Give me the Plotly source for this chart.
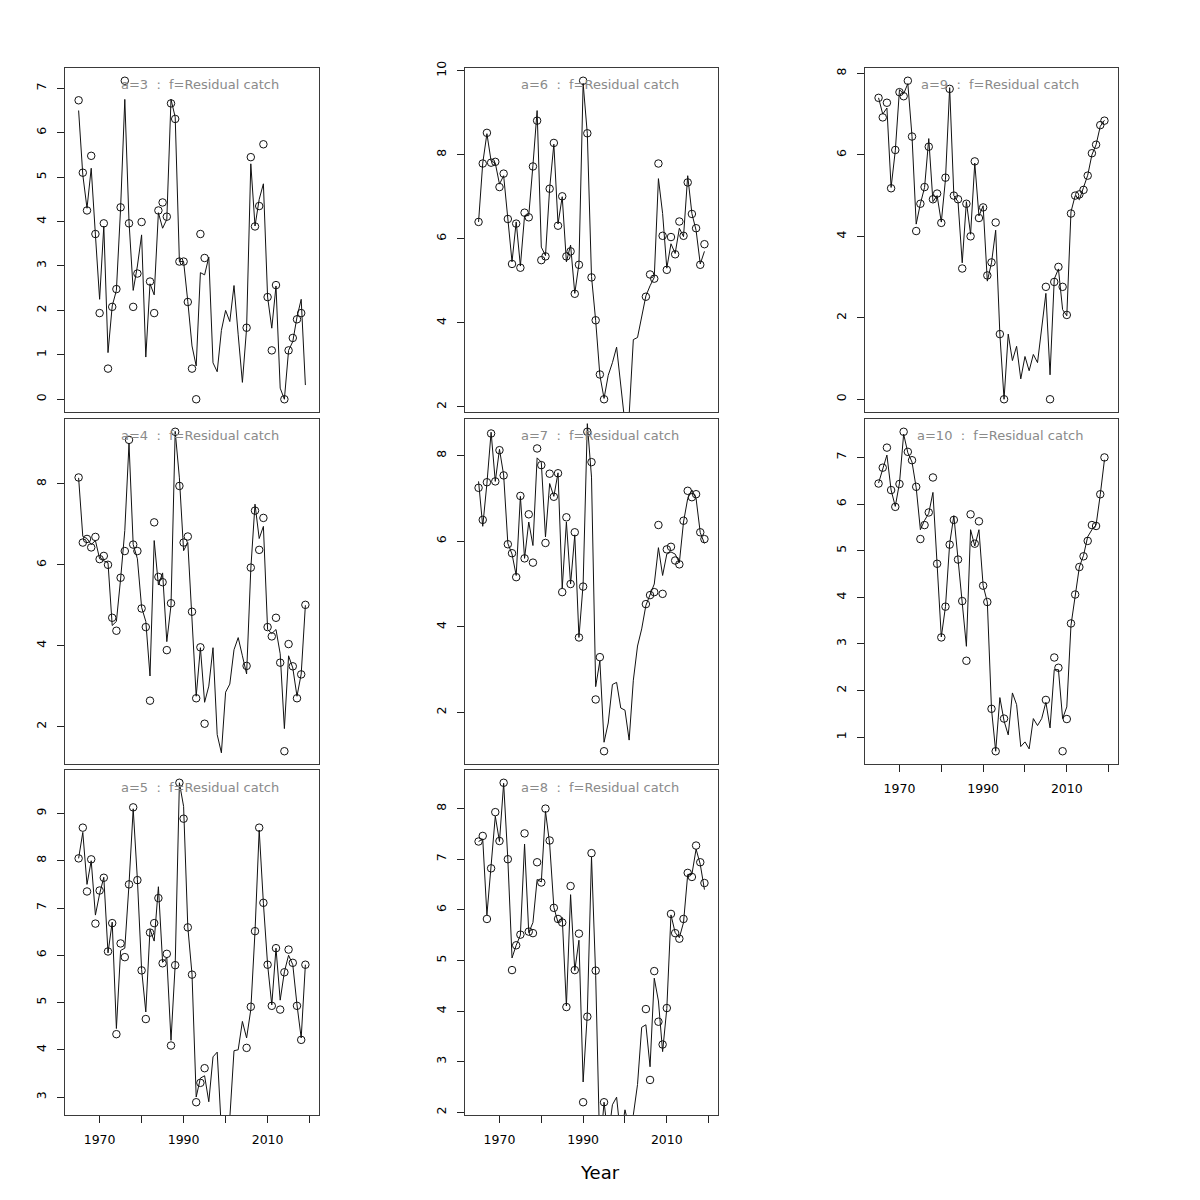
import plotly.graph_objects as go

years = list(range(1965, 2020))
N = None

# ---- a=3 ----
obs_a3 = [6.73, 5.10, 4.25, 5.48, 3.72, 1.94, 3.96, 0.69, 2.08, 2.48,
          4.32, 7.17, 3.96, 2.08, 2.83, 3.99, N, 2.65, 1.94, 4.25,
          4.43, 4.11, 6.66, 6.31, 3.10, 3.10, 2.19, 0.69, 0.00, 3.72,
          3.18, N, N, N, N, N, N, N, N, N,
          1.61, 5.45, 3.89, 4.35, 5.74, 2.30, 1.10, 2.57, N, 0.00,
          1.10, 1.38, 1.80, 1.94, N]
fit_a3 = [6.5, 5.05, 4.3, 5.2, 3.7, 2.25, 3.9, 1.05, 2.1, 2.45,
          4.3, 6.75, 4.0, 2.45, 3.0, 3.7, 0.95, 2.6, 2.35, 4.2,
          3.85, 4.05, 6.75, 6.35, 3.1, 3.1, 2.2, 1.2, 0.75, 2.85,
          2.8, 3.2, 0.82, 0.62, 1.55, 2.0, 1.75, 2.56, 1.45, 0.38,
          1.6, 5.3, 3.9, 4.5, 4.85, 2.3, 1.6, 2.55, 0.25, 0.0,
          1.1, 1.3, 1.85, 2.25, 0.32]

# ---- a=4 ----
obs_a4 = [8.16, 6.55, 6.64, 6.43, 6.69, 6.14, 6.22, 6.00, 4.69, 4.37,
          5.68, 6.34, 9.09, 6.50, 6.34, 4.92, 4.46, 2.64, 7.05, 5.70,
          5.57, 3.89, 5.05, 9.29, 7.95, 6.55, 6.70, 4.84, 2.70, 3.96,
          2.07, N, N, N, N, N, N, N, N, N,
          3.50, 5.93, 7.34, 6.37, 7.16, 4.46, 4.23, 4.69, 3.58, 1.39,
          4.04, 3.49, 2.70, 3.29, 5.01]
fit_a4 = [8.15, 6.7, 6.65, 6.5, 6.6, 6.15, 6.1, 6.05, 4.5, 4.6,
          5.65, 6.85, 9.0, 6.5, 6.15, 4.95, 4.6, 3.25, 6.6, 5.5,
          5.8, 4.1, 5.0, 9.3, 8.15, 6.35, 6.55, 4.8, 2.75, 3.95,
          2.6, 3.0, 3.95, 1.8, 1.35, 2.85, 3.05, 3.9, 4.2, 3.75,
          3.3, 5.9, 7.5, 6.65, 6.95, 4.4, 4.3, 4.4, 3.8, 1.95,
          3.75, 3.45, 2.75, 3.3, 5.0]

# ---- a=5 ----
obs_a5 = [8.05, 8.70, 7.35, 8.03, 6.67, 7.37, 7.64, 6.08, 6.68, 4.33,
          6.25, 5.96, 7.50, 9.13, 7.59, 5.68, 4.65, 6.48, 6.68, 7.21,
          5.83, 6.03, 4.09, 5.79, 9.65, 8.89, 6.59, 5.59, 2.89, 3.30,
          3.61, N, N, N, N, N, N, N, N, N,
          4.04, 4.91, 6.51, 8.70, 7.11, 5.80, 4.93, 6.15, 4.85, 5.64,
          6.12, 5.84, 4.93, 4.21, 5.80]
fit_a5 = [8.05, 8.6, 7.5, 8.0, 6.85, 7.3, 7.65, 6.05, 6.7, 4.45,
          6.1, 6.15, 7.5, 9.1, 7.6, 5.7, 4.8, 6.55, 6.3, 7.45,
          5.85, 5.95, 4.2, 5.8, 9.65, 9.15, 6.6, 5.6, 3.0, 3.4,
          3.45, 2.9, 3.85, 3.95, 2.3, 2.2, 2.55, 3.98, 4.0, 4.6,
          4.25, 4.85, 6.5, 8.65, 7.1, 5.8, 4.95, 6.15, 5.05, 5.65,
          6.0, 5.8, 4.95, 4.25, 5.8]

# ---- a=6 ----
obs_a6 = [6.40, 7.79, 8.52, 7.81, 7.83, 7.23, 7.55, 6.47, 5.40, 6.36,
          5.31, 6.62, 6.51, 7.72, 8.81, 5.49, 5.58, 7.19, 8.28, 6.31,
          7.01, 5.58, 5.70, 4.69, 5.38, 9.76, 8.51, 5.08, 4.06, 2.77,
          2.18, N, N, N, N, N, N, N, N, N,
          4.62, 5.15, 5.05, 7.79, 6.07, 5.26, 6.04, 5.63, 6.41, 6.07,
          7.34, 6.59, 6.25, 5.38, 5.87]
fit_a6 = [6.4, 7.8, 8.5, 7.85, 7.8, 7.3, 7.5, 6.5, 5.45, 6.4,
          5.35, 6.55, 6.55, 7.75, 9.05, 5.8, 5.6, 7.2, 8.25, 6.35,
          7.0, 5.45, 5.85, 4.7, 5.4, 9.7, 8.5, 5.1, 4.05, 2.75,
          2.2, 2.75, 3.05, 3.42, 2.6, 1.6, 1.8, 3.6, 3.65, 4.13,
          4.64, 4.88, 5.08, 7.43, 6.6, 5.3, 5.88, 5.65, 6.25, 6.05,
          7.5, 6.6, 6.2, 5.4, 5.7]

# ---- a=7 ----
obs_a7 = [7.25, 6.50, 7.38, 8.52, 7.40, 8.13, 7.54, 5.93, 5.72, 5.16,
          7.06, 5.60, 6.63, 5.50, 8.17, 7.78, 5.96, 7.58, 7.04, 7.59,
          4.81, 6.56, 5.00, 6.21, 3.75, 4.94, 8.56, 7.85, 2.30, 3.29,
          1.09, N, N, N, N, N, N, N, N, N,
          4.53, 4.74, 4.81, 6.38, 4.77, 5.81, 5.87, 5.55, 5.46, 6.48,
          7.18, 7.03, 7.10, 6.21, 6.05]
fit_a7 = [7.4, 6.35, 7.35, 8.55, 7.4, 8.15, 7.55, 5.95, 5.7, 5.2,
          7.05, 5.6, 6.45, 5.9, 7.95, 7.85, 6.1, 7.35, 7.05, 7.6,
          4.9, 6.45, 5.0, 6.15, 3.75, 5.0, 8.75, 7.5, 2.6, 3.2,
          1.3, 1.75, 2.65, 2.7, 2.1, 2.05, 1.35, 2.75, 3.55, 3.95,
          4.5, 4.75, 5.0, 5.85, 5.2, 5.7, 5.75, 5.7, 5.5, 6.45,
          7.0, 7.2, 7.0, 6.2, 5.95]

# ---- a=8 ----
obs_a8 = [7.35, 7.46, 5.82, 6.82, 7.93, 7.36, 8.51, 7.00, 4.81, 5.30,
          5.51, 7.51, 5.57, 5.54, 6.94, 6.54, 8.00, 7.37, 6.04, 5.82,
          5.75, 4.08, 6.47, 4.81, 5.53, 2.20, 3.89, 7.12, 4.80, N,
          2.20, N, N, N, N, N, N, N, N, N,
          4.04, 2.64, 4.79, 3.79, 3.34, 4.06, 5.92, 5.54, 5.43, 5.82,
          6.73, 6.65, 7.27, 6.94, 6.53]
fit_a8 = [7.35, 7.4, 5.9, 6.8, 7.85, 7.35, 8.5, 7.0, 5.05, 5.3,
          5.5, 7.3, 5.55, 5.75, 6.6, 6.55, 7.95, 7.3, 6.05, 5.75,
          5.85, 4.1, 6.3, 4.8, 5.4, 2.6, 3.95, 7.05, 4.7, 1.2,
          2.2, 1.5, 2.15, 2.3, 1.5, 2.05, 1.7, 1.95, 2.55, 3.68,
          3.73, 2.9, 4.65, 4.2, 3.2, 4.05, 5.9, 5.55, 5.45, 5.75,
          6.7, 6.7, 7.2, 6.9, 6.4]

# ---- a=9 ----
obs_a9 = [7.40, 6.92, 7.28, 5.18, 6.12, 7.54, 7.44, 7.82, 6.45, 4.13,
          4.80, 5.21, 6.20, 4.91, 5.05, 4.33, 5.44, 7.62, 5.00, 4.91,
          3.21, 4.80, 4.00, 5.84, 4.45, 4.71, 3.04, 3.36, 4.34, 1.60,
          0.00, N, N, N, N, N, N, N, N, N,
          2.76, 0.00, 2.88, 3.25, 2.76, 2.07, 4.56, 5.00, 5.03, 5.14,
          5.49, 6.04, 6.25, 6.73, 6.84]
fit_a9 = [7.4, 7.0, 7.15, 5.2, 6.1, 7.6, 7.5, 7.75, 6.45, 4.3,
          4.8, 5.2, 6.4, 4.85, 5.0, 4.35, 5.4, 7.65, 5.0, 4.85,
          3.35, 4.85, 4.05, 5.8, 4.5, 4.75, 2.9, 3.35, 4.15, 1.6,
          0.0, 1.6, 0.95, 1.3, 0.5, 1.05, 0.7, 1.1, 0.9, 1.7,
          2.6, 0.6, 2.95, 3.2, 2.2, 2.05, 4.6, 5.0, 4.9, 5.2,
          5.5, 6.0, 6.25, 6.7, 6.85]

# ---- a=10 ----
obs_a10 = [6.44, 6.78, 7.21, 6.30, 5.94, 6.43, 7.55, 7.12, 6.94, 6.37,
           5.25, 5.55, 5.82, 6.57, 4.72, 3.14, 3.80, 5.13, 5.66, 4.81,
           3.92, 2.64, 5.78, 5.15, 5.63, 4.25, 3.90, 1.61, 0.70, N,
           1.40, N, N, N, N, N, N, N, N, N,
           1.80, N, 2.71, 2.49, 0.70, 1.39, 3.44, 4.06, 4.65, 4.88,
           5.21, 5.55, 5.53, 6.21, 7.00]
fit_a10 = [6.45, 6.75, 7.05, 6.3, 5.95, 6.45, 7.5, 7.1, 6.9, 6.35,
           5.45, 5.65, 5.8, 6.25, 4.7, 3.15, 3.8, 5.15, 5.75, 4.8,
           3.95, 2.95, 5.45, 5.1, 5.45, 4.25, 3.9, 1.6, 0.7, 1.85,
           1.35, 1.05, 1.95, 1.7, 0.8, 0.9, 0.75, 1.4, 1.25, 1.4,
           1.75, 1.2, 2.45, 2.45, 1.4, 1.65, 3.4, 4.05, 4.65, 4.9,
           5.3, 5.45, 5.55, 6.2, 6.95]

# tick labels
yticks_a3 = [0, 1, 2, 3, 4, 5, 6, 7]
yticks_a4 = [2, 4, 6, 8]
yticks_a5 = [3, 4, 5, 6, 7, 8, 9]
yticks_a6 = [2, 4, 6, 8, 10]
yticks_a7 = [2, 4, 6, 8]
yticks_a8 = [2, 3, 4, 5, 6, 7, 8]
yticks_a9 = [0, 2, 4, 6, 8]
yticks_a10 = [1, 2, 3, 4, 5, 6, 7]
xtick_vals = [1970, 1980, 1990, 2000, 2010, 2020]
xtick_text = ["1970", "", "1990", "", "2010", ""]

panel_titles = ["a=3", "a=4", "a=5", "a=6", "a=7", "a=8", "a=9", "a=10"]
fleet = "f=Residual catch"

panels = [
    (panel_titles[0], obs_a3, fit_a3, yticks_a3, 0, 0, False),
    (panel_titles[1], obs_a4, fit_a4, yticks_a4, 0, 1, False),
    (panel_titles[2], obs_a5, fit_a5, yticks_a5, 0, 2, True),
    (panel_titles[3], obs_a6, fit_a6, yticks_a6, 1, 0, False),
    (panel_titles[4], obs_a7, fit_a7, yticks_a7, 1, 1, False),
    (panel_titles[5], obs_a8, fit_a8, yticks_a8, 1, 2, True),
    (panel_titles[6], obs_a9, fit_a9, yticks_a9, 2, 0, False),
    (panel_titles[7], obs_a10, fit_a10, yticks_a10, 2, 1, True),
]

W = H = 1200
OFF = 8  # page body margin compensation
col_px = [(65, 319), (465, 718), (865, 1118)]
row_px = [(68, 412), (419, 764), (770, 1115)]
title_cx = [200, 600, 1000]
title_cy = [84, 435, 787]
FONT = "DejaVu Sans"
BOX = "#3a3a3a"


def px_x(p):
    return (p - OFF) / W


def px_y(p):
    return 1 - (p - OFF) / H


fig = go.Figure()
layout = {}
annotations = []
for i, (title, obs, fit, yt, c, r, showx) in enumerate(panels):
    k = i + 1
    xa = "x" if k == 1 else f"x{k}"
    ya = "y" if k == 1 else f"y{k}"
    xname = "xaxis" if k == 1 else f"xaxis{k}"
    yname = "yaxis" if k == 1 else f"yaxis{k}"
    fig.add_trace(go.Scatter(x=years, y=fit, mode="lines",
                             line=dict(color="#111111", width=1),
                             xaxis=xa, yaxis=ya, hoverinfo="skip",
                             connectgaps=False))
    fig.add_trace(go.Scatter(x=years, y=obs, mode="markers",
                             marker=dict(symbol="circle-open", size=7.5,
                                         color="#111111",
                                         line=dict(width=1, color="#111111")),
                             xaxis=xa, yaxis=ya))
    vals = [v for v in obs if v is not None]
    lo, hi = min(vals), max(vals)
    pad = 0.04 * (hi - lo)
    x0, x1 = col_px[c]
    ytop, ybot = row_px[r]
    layout[xname] = dict(
        domain=[px_x(x0), px_x(x1)], anchor=ya, range=[1961.76, 2022.24],
        automargin=False,
        showgrid=False, zeroline=False, showline=True, mirror=True,
        linecolor=BOX, linewidth=1,
        ticks="outside" if showx else "", ticklen=7, tickwidth=1,
        tickcolor="#222222",
        tickmode="array", tickvals=xtick_vals, ticktext=xtick_text,
        showticklabels=showx, ticklabelstandoff=6,
        tickfont=dict(family=FONT, size=12.5, color="black"))
    layout[yname] = dict(
        domain=[px_y(ybot), px_y(ytop)], anchor=xa,
        range=[lo - pad, hi + pad], automargin=False,
        showgrid=False, zeroline=False, showline=True, mirror=True,
        linecolor=BOX, linewidth=1,
        ticks="outside", ticklen=7, tickwidth=1, tickcolor="#222222",
        tickmode="array", tickvals=yt, ticktext=[str(v) for v in yt],
        tickangle=-90, ticklabelstandoff=6,
        tickfont=dict(family=FONT, size=12.5, color="black"))
    annotations.append(dict(
        text=f"{title}\u00a0\u00a0:\u00a0\u00a0{fleet}",
        xref="paper", yref="paper", x=px_x(title_cx[c]), y=px_y(title_cy[r]),
        xanchor="center", yanchor="middle", showarrow=False,
        font=dict(family=FONT, size=13, color="#8a8a8a")))

annotations.append(dict(text="Year", xref="paper", yref="paper",
                        x=px_x(600), y=px_y(1172), xanchor="center",
                        yanchor="middle", showarrow=False,
                        font=dict(family=FONT, size=18, color="black")))

fig.update_layout(width=W, height=H, margin=dict(l=0, r=0, t=0, b=0, pad=0),
                  paper_bgcolor="white", plot_bgcolor="white",
                  showlegend=False, annotations=annotations, **layout)

fig.write_html("out.html")
